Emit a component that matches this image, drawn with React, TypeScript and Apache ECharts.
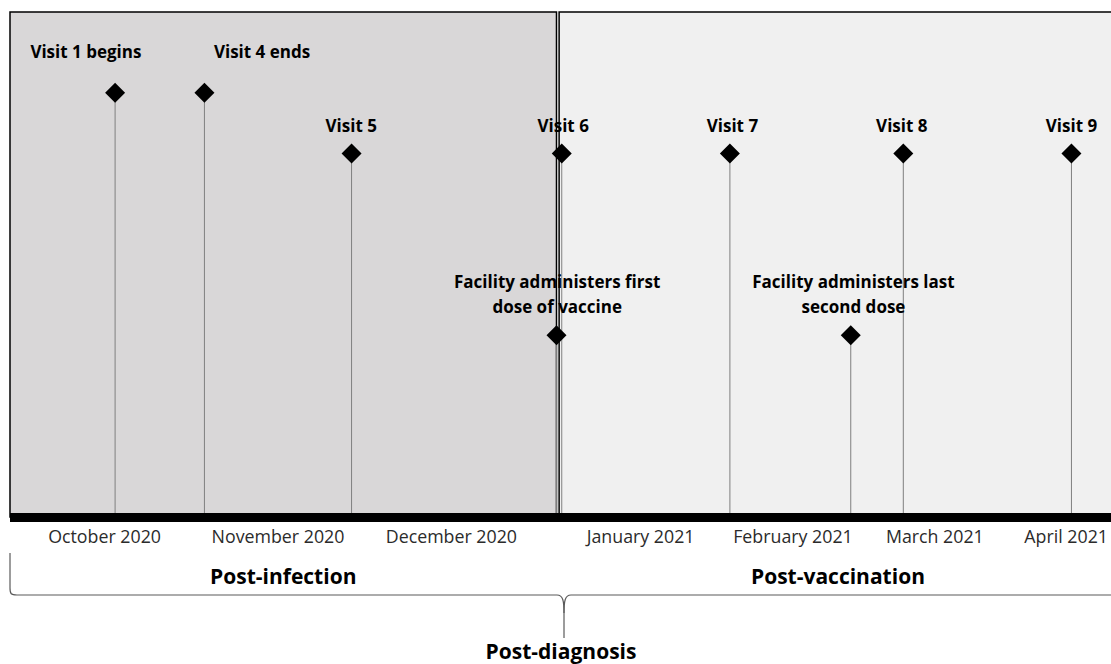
import React, { useEffect, useRef } from "react";
import * as echarts from "echarts";

// ---- data ----
const eventNames = [
  "Visit 1 begins",
  "Visit 4 ends",
  "Visit 5",
  "Facility administers first\ndose of vaccine",
  "Visit 6",
  "Visit 7",
  "Facility administers last\nsecond dose",
  "Visit 8",
  "Visit 9",
];
const eventDates = [
  "2020-10-01",
  "2020-10-18",
  "2020-11-15",
  "2020-12-24",
  "2020-12-25",
  "2021-01-26",
  "2021-02-18",
  "2021-02-28",
  "2021-04-01",
];
const eventHeights = [84, 84, 72, 36, 72, 72, 36, 72, 72];

const monthLabels = [
  "October 2020",
  "November 2020",
  "December 2020",
  "January 2021",
  "February 2021",
  "March 2021",
  "April 2021",
];
const monthLabelDates = [
  "2020-09-29",
  "2020-11-01",
  "2020-12-04",
  "2021-01-09",
  "2021-02-07",
  "2021-03-06",
  "2021-03-31",
];

const phaseNames = ["Post-infection", "Post-vaccination"];
const phaseStarts = ["2020-09-11 00:00", "2020-12-24 12:00"];
const phaseEnds = ["2020-12-24 00:00", "2021-04-11 00:00"];
const overallPhaseName = "Post-diagnosis";

const axisMin = "2020-09-11";
const axisMax = "2021-04-11";

// ---- styles (not data) ----
const labelOffsets: [number, number][] = [
  [-29.2, -18.4],
  [57.6, -18.4],
  [-0.3, -5.5],
  [0.7, -5.5],
  [1.4, -5.5],
  [2.5, -5.5],
  [2.7, -5.5],
  [-1.5, -5.5],
  [0, -5.5],
];
const phaseFill = ["#d9d7d8", "#f0f0f0"];
const phaseLabelOffsets: [number, number][] = [
  [0, 0],
  [-3.6, 0],
];
const FONT = '"Open Sans", "Liberation Sans", sans-serif';

// dates -> epoch ms (UTC, so every day has the same length)
function ts(s: string): number {
  const [d, t = "00:00"] = s.split(" ");
  const [y, m, dd] = d.split("-").map(Number);
  const [h, mi] = t.split(":").map(Number);
  return Date.UTC(y, m - 1, dd, h, mi);
}

export default function App() {
  const ref = useRef<HTMLDivElement>(null);

  useEffect(() => {
    if (!ref.current) return;
    const chart = echarts.init(ref.current, undefined, { renderer: "svg" });

    const eventTs = eventDates.map(ts);
    const monthTs = monthLabelDates.map(ts);
    const bracketColor = "#5a5a5a";

    const option: any = {
      animation: false,
      backgroundColor: "#ffffff",
      grid: {
        left: 10,
        right: -13,
        top: 12,
        bottom: 147,
        containLabel: false,
        outerBoundsMode: "none",
      },
      xAxis: {
        type: "value",
        min: ts(axisMin),
        max: ts(axisMax),
        scale: true,
        z: 10,
        axisLine: {
          show: true,
          lineStyle: { color: "#000000", width: 9, cap: "butt", opacity: 1 },
        },
        axisTick: { show: false },
        splitLine: { show: false },
        axisLabel: {
          show: true,
          customValues: monthTs,
          hideOverlap: false,
          margin: 9,
          fontFamily: FONT,
          fontSize: 17.8,
          lineHeight: 20,
          color: "#2b2b2b",
          formatter: (value: number) => {
            let best = 0;
            for (let i = 1; i < monthTs.length; i++) {
              if (Math.abs(monthTs[i] - value) < Math.abs(monthTs[best] - value)) best = i;
            }
            return monthLabels[best];
          },
        },
      },
      yAxis: {
        type: "value",
        min: 0,
        max: 100,
        show: false,
      },
      series: [
        {
          type: "bar",
          silent: true,
          barWidth: 1,
          itemStyle: { color: "#7f7f7f", opacity: 1 },
          data: eventTs.map((t, i) => [t, eventHeights[i]]),
          markArea: {
            silent: true,
            data: phaseNames.map((name, i) => [
              {
                name,
                xAxis: ts(phaseStarts[i]),
                itemStyle: {
                  color: phaseFill[i],
                  borderColor: "#000000",
                  borderWidth: 1.5,
                  opacity: 1,
                },
                label: {
                  show: true,
                  position: "bottom",
                  distance: 44,
                  offset: phaseLabelOffsets[i],
                  fontFamily: FONT,
                  fontWeight: "bold",
                  fontSize: 21,
                  lineHeight: 28,
                  color: "#000000",
                },
              },
              { xAxis: ts(phaseEnds[i]) },
            ]),
          },
        },
        {
          type: "scatter",
          silent: true,
          symbol: "diamond",
          symbolSize: 20,
          itemStyle: { color: "#000000", opacity: 1 },
          label: {
            show: true,
            position: "top",
            distance: 0,
            formatter: "{b}",
            fontFamily: FONT,
            fontWeight: "bold",
            fontSize: 17,
            lineHeight: 25.5,
            align: "center",
            color: "#000000",
            opacity: 1,
          },
          data: eventTs.map((t, i) => ({
            value: [t, eventHeights[i]],
            name: eventNames[i],
            label: { offset: labelOffsets[i] },
          })),
        },
      ],
      graphic: [
        {
          type: "group",
          silent: true,
          children: [
            { type: "line", shape: { x1: 10, y1: 553, x2: 10, y2: 588 }, style: { stroke: bracketColor, lineWidth: 1.2 } },
            {
              type: "bezierCurve",
              shape: { x1: 10, y1: 588, cpx1: 10, cpy1: 594, cpx2: 11, cpy2: 595, x2: 17, y2: 595 },
              style: { stroke: bracketColor, lineWidth: 1.2, fill: "none" },
            },
            { type: "line", shape: { x1: 17, y1: 595, x2: 557, y2: 595 }, style: { stroke: bracketColor, lineWidth: 1.2 } },
            {
              type: "bezierCurve",
              shape: { x1: 557, y1: 595, cpx1: 563, cpy1: 595, cpx2: 564, cpy2: 601, x2: 564, y2: 613 },
              style: { stroke: bracketColor, lineWidth: 1.2, fill: "none" },
            },
            {
              type: "bezierCurve",
              shape: { x1: 571, y1: 595, cpx1: 565, cpy1: 595, cpx2: 564, cpy2: 601, x2: 564, y2: 613 },
              style: { stroke: bracketColor, lineWidth: 1.2, fill: "none" },
            },
            { type: "line", shape: { x1: 564, y1: 613, x2: 564, y2: 638 }, style: { stroke: bracketColor, lineWidth: 1.2 } },
            { type: "line", shape: { x1: 571, y1: 595, x2: 1112, y2: 595 }, style: { stroke: bracketColor, lineWidth: 1.2 } },
          ],
        },
        {
          type: "text",
          silent: true,
          x: 561,
          y: 651,
          style: {
            text: overallPhaseName,
            textAlign: "center",
            textVerticalAlign: "middle",
            fontFamily: FONT,
            fontWeight: "bold",
            fontSize: 21,
            fill: "#000000",
          },
        },
      ],
    };

    chart.setOption(option);
    return () => {
      chart.dispose();
    };
  }, []);

  return (
    <div
      ref={ref}
      style={{ position: "absolute", left: 0, top: 0, width: 1111, height: 664 }}
    />
  );
}
